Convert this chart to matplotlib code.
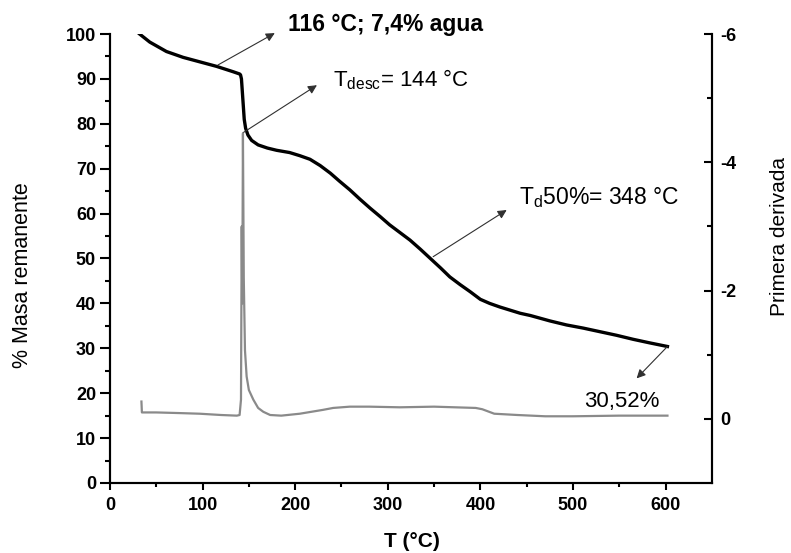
import numpy as np
import matplotlib
matplotlib.use("Agg")
import matplotlib.pyplot as plt

# -------------------------------------------------------------------------------------
# Data
# TGA curve (% remaining mass)
temp_tga = [32, 43, 61, 79, 97, 115, 133, 140, 141, 142, 143, 144, 145, 146.5, 149,
            153, 160, 170, 180, 194, 205, 216, 227, 238, 248, 259, 270, 281, 292, 302,
            313, 324, 335, 346, 357, 367, 378, 389, 400, 410, 421, 432, 443, 454, 475,
            493, 511, 529, 547, 565, 583, 602]
mass_tga = [100.0, 98.2, 96.1, 94.8, 93.8, 92.8, 91.6, 91.1, 90.9, 90.0, 87.0, 84.0,
            81.0, 79.0, 77.5, 76.3, 75.3, 74.6, 74.1, 73.6, 72.9, 72.1, 70.7, 69.0, 67.2,
            65.3, 63.2, 61.2, 59.3, 57.5, 55.8, 54.1, 52.1, 50.0, 47.9, 45.9, 44.2, 42.6,
            40.9, 40.0, 39.2, 38.5, 37.8, 37.3, 36.1, 35.2, 34.5, 33.7, 32.9, 32.0, 31.2,
            30.4]

# first derivative (right axis)
temp_dtg = [34, 34.5, 50, 75, 97, 120, 137, 140, 141.5, 142.3, 142.9, 143.6, 144.5,
            145.8, 147.6, 150, 154.8, 160, 165.6, 173, 185, 205, 230, 241, 259, 280,
            313, 350, 395, 402, 415, 440, 470, 500, 550, 602]
dtg = [-0.27, -0.10, -0.10, -0.09, -0.08, -0.06, -0.05, -0.06, -0.30, -3.00, -1.80,
       -4.45, -2.20, -1.07, -0.66, -0.45, -0.30, -0.17, -0.11, -0.06, -0.05, -0.08,
       -0.14, -0.17, -0.19, -0.19, -0.18, -0.19, -0.17, -0.15, -0.08, -0.06, -0.04,
       -0.04, -0.05, -0.05]

x_ticks = [0, 100, 200, 300, 400, 500, 600]
y_ticks = [0, 10, 20, 30, 40, 50, 60, 70, 80, 90, 100]
y2_ticks = [0, -2, -4, -6]
# -------------------------------------------------------------------------------------

plt.rcParams['font.family'] = ['Liberation Sans', 'DejaVu Sans']
plt.rcParams['axes.unicode_minus'] = False
plt.rcParams['mathtext.fontset'] = 'custom'
plt.rcParams['mathtext.rm'] = 'Liberation Sans'
plt.rcParams['mathtext.bf'] = 'Liberation Sans:bold'
plt.rcParams['mathtext.default'] = 'regular'

fig = plt.figure(figsize=(7.91, 5.53), dpi=100)
ax = fig.add_axes([0.139, 0.1266, 0.761, 0.8119])
ax2 = ax.twinx()

ax.plot(temp_tga, mass_tga, color='black', lw=2.4, solid_joinstyle='round', zorder=3)
ax2.plot(temp_dtg, dtg, color='#8a8a8a', lw=1.6, zorder=2)

ax.set_xlim(0, 650)
ax.set_ylim(0, 100)
ax2.set_ylim(1, -6)

ax.set_xticks(x_ticks)
ax.set_xticks(np.arange(50, 650, 100), minor=True)
ax.set_yticks(y_ticks)
ax.set_yticks(np.arange(5, 100, 10), minor=True)
ax2.set_yticks(y2_ticks)
ax2.set_yticks([-1, -3, -5], minor=True)

for a in (ax, ax2):
    a.spines['top'].set_visible(False)
    for s in a.spines.values():
        s.set_linewidth(1.5)

ax.tick_params(axis='y', which='major', direction='out', length=7, width=1.5, pad=3,
               labelsize=13)
ax.tick_params(axis='y', which='minor', direction='out', length=3.5, width=1.5)
ax.tick_params(axis='x', which='major', direction='out', length=5, width=1.5, pad=5,
               labelsize=13)
ax.tick_params(axis='x', which='minor', direction='out', length=3, width=1.5)
ax2.tick_params(axis='y', which='major', direction='in', length=6, width=1.5, pad=6,
                labelsize=13)
ax2.tick_params(axis='y', which='minor', direction='in', length=3.5, width=1.5)

for lab in ax.get_xticklabels() + ax.get_yticklabels() + ax2.get_yticklabels():
    lab.set_fontweight('bold')

ax.set_ylabel('% Masa remanente', fontsize=15.5, va='center')
ax.yaxis.set_label_coords(-0.146, 0.463)
ax.set_xlabel('T (°C)', fontsize=15, fontweight='bold', va='center')
ax.xaxis.set_label_coords(0.502, -0.131)
ax2.set_ylabel('Primera derivada', fontsize=15, va='center')
ax2.yaxis.set_label_coords(1.112, 0.548)

# annotations
arrow_kw = dict(arrowstyle='-|>', color='#303030', lw=0.8, mutation_scale=13,
                shrinkA=0, shrinkB=0)
ax.annotate('', xy=(178, 100.2), xytext=(116.6, 93.1), arrowprops=arrow_kw,
            annotation_clip=False)
ax.annotate('', xy=(223.5, 88.6), xytext=(143.6, 78.0), arrowprops=arrow_kw)
ax.annotate('', xy=(428.4, 60.8), xytext=(349, 50.4), arrowprops=arrow_kw)
ax.annotate('', xy=(568.7, 23.3), xytext=(602, 30.4), arrowprops=arrow_kw)

ax.text(192, 102.2, '116 °C; 7,4% agua', fontsize=16.5, fontweight='bold',
        ha='left', va='center', clip_on=False)
ax.text(240.8, 89.8, r'T$_{desc}$= 144 °C', fontsize=16, ha='left', va='center')
ax.text(441.7, 63.5, r'T$_{d}$50%= 348 °C', fontsize=16.5, ha='left', va='center')
ax.text(512, 18.1, '30,52%', fontsize=16, ha='left', va='center')

fig.savefig('out.png', dpi=100)
